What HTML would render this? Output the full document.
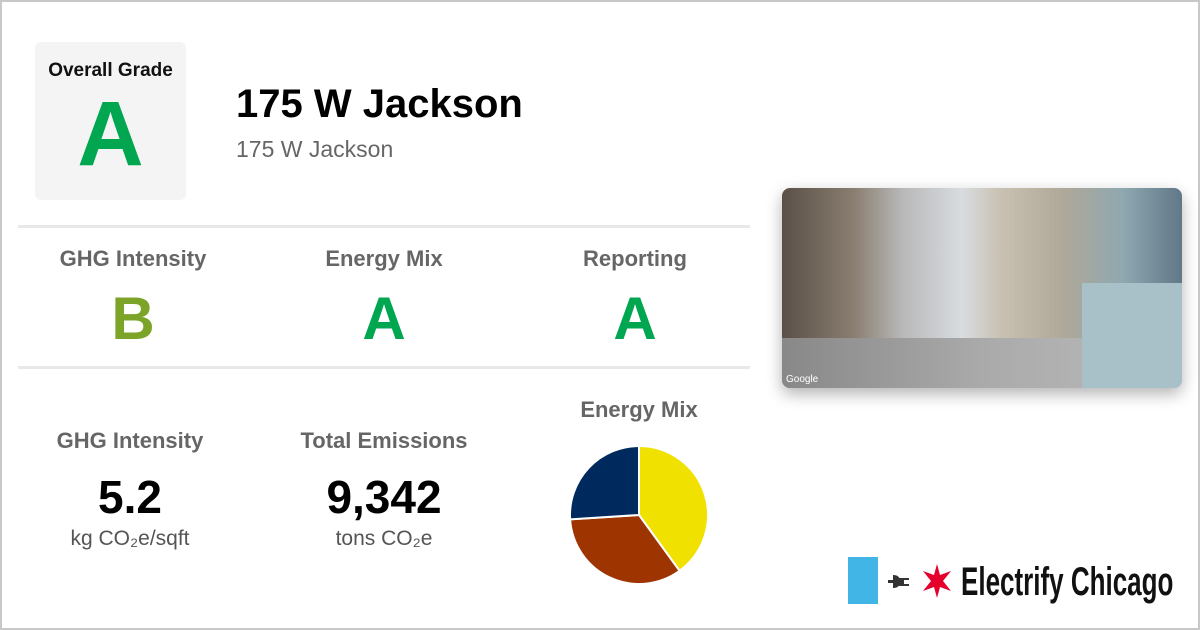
<!DOCTYPE html>
<html><head><meta charset="utf-8"><style>
*{margin:0;padding:0;box-sizing:border-box}
body{width:1200px;height:630px;overflow:hidden;background:#fff;font-family:"Liberation Sans",sans-serif;position:relative}
.frame{position:absolute;inset:0;border:2px solid #c8c8c8}
.a{position:absolute}
.gray{color:#666;font-weight:bold}
.c{text-align:center}
</style></head><body>
<div class="frame"></div>
<div class="a" style="left:35px;top:42px;width:151px;height:158px;background:#f4f4f4;border-radius:6px">
  <div class="a c" style="left:0;width:151px;top:18px;font-size:19px;font-weight:bold;color:#111">Overall Grade</div>
  <div class="a c" style="left:0;width:151px;top:42px;font-size:92px;font-weight:bold;color:#00a650;line-height:100px">A</div>
</div>
<div class="a" style="left:236px;top:82px;font-size:40px;font-weight:bold;color:#000">175 W Jackson</div>
<div class="a" style="left:236px;top:136px;font-size:23px;color:#666">175 W Jackson</div>
<div class="a" style="left:18px;top:225px;width:732px;height:3px;background:#e8e8e8"></div>
<div class="a" style="left:18px;top:366px;width:732px;height:3px;background:#e8e8e8"></div>
<div class="a gray c" style="left:33px;width:200px;top:246px;font-size:22px">GHG Intensity</div>
<div class="a c" style="left:33px;width:200px;top:284px;font-size:60px;font-weight:bold;color:#7ba428">B</div>
<div class="a gray c" style="left:284px;width:200px;top:246px;font-size:22px">Energy Mix</div>
<div class="a c" style="left:284px;width:200px;top:284px;font-size:60px;font-weight:bold;color:#00a650">A</div>
<div class="a gray c" style="left:535px;width:200px;top:246px;font-size:22px">Reporting</div>
<div class="a c" style="left:535px;width:200px;top:284px;font-size:60px;font-weight:bold;color:#00a650">A</div>
<div class="a gray c" style="left:30px;width:200px;top:428px;font-size:22px">GHG Intensity</div>
<div class="a c" style="left:30px;width:200px;top:470px;font-size:46px;font-weight:bold;color:#000">5.2</div>
<div class="a c" style="left:30px;width:200px;top:527px;font-size:21px;color:#555">kg CO₂e/sqft</div>
<div class="a gray c" style="left:284px;width:200px;top:428px;font-size:22px">Total Emissions</div>
<div class="a c" style="left:284px;width:200px;top:470px;font-size:46px;font-weight:bold;color:#000">9,342</div>
<div class="a c" style="left:284px;width:200px;top:527px;font-size:21px;color:#555">tons CO₂e</div>
<div class="a gray c" style="left:539px;width:200px;top:397px;font-size:22px">Energy Mix</div>
<svg class="a" id="pie" style="left:560px;top:436px" width="160" height="160"></svg>
<div class="a" style="left:782px;top:188px;width:400px;height:200px;border-radius:8px;overflow:hidden;box-shadow:0 6px 16px rgba(0,0,0,.3);background:linear-gradient(90deg,#5a5048 0%,#8a7e70 18%,#b8b8b8 30%,#d8dce0 45%,#c8c0b0 55%,#b0a898 70%,#90a8b0 85%,#607888 100%)">
  <div class="a" style="left:0;top:150px;width:400px;height:50px;background:linear-gradient(90deg,#888 0%,#aaa 50%,#bbb 100%)"></div>
  <div class="a" style="left:300px;top:95px;width:100px;height:105px;background:#a8c0c8"></div>
  <div class="a" style="left:4px;top:186px;font-size:10px;color:#fff">Google</div>
</div>
<div class="a" style="left:848px;top:557px;width:30px;height:47px;background:#41b6e6"></div>
<svg class="a" style="left:888px;top:572px" width="30" height="20">
  <rect x="0" y="8" width="6" height="3" fill="#333"/>
  <path d="M5 3 Q12 3 12 9.5 Q12 16 5 16 Z" fill="#333"/>
  <rect x="11" y="6" width="5" height="8" fill="#333"/>
  <rect x="16" y="6" width="5" height="2" fill="#333"/>
  <rect x="16" y="12" width="5" height="2" fill="#333"/>
</svg>
<svg class="a" style="left:920px;top:563px" width="34" height="36">
  <polygon fill="#e4002b" points="17,1 20,12 31,8 23,18 31,28 20,24 17,35 14,24 3,28 11,18 3,8 14,12"/>
</svg>
<div class="a" style="left:961px;top:560px;font-size:40px;color:#111;white-space:nowrap;transform:scaleX(.65);transform-origin:left;font-weight:bold;letter-spacing:0px">Electrify Chicago</div>
<script>
const categories=["Electricity","Natural Gas","Other"];
const values=[40,34,26];
const colors=["#f0e100","#9e3400","#002a5e"];
const svg=document.getElementById('pie');
const cx=79,cy=79,r=69;
const total=values.reduce((a,b)=>a+b,0);
let a0=0;
values.forEach((v,i)=>{
  const a1=a0+v/total*Math.PI*2;
  const x0=cx+r*Math.sin(a0),y0=cy-r*Math.cos(a0),x1=cx+r*Math.sin(a1),y1=cy-r*Math.cos(a1);
  const p=document.createElementNS('http://www.w3.org/2000/svg','path');
  p.setAttribute('d',`M${cx},${cy}L${x0},${y0}A${r},${r} 0 ${a1-a0>Math.PI?1:0} 1 ${x1},${y1}Z`);
  p.setAttribute('fill',colors[i]);p.setAttribute('stroke','#fff');p.setAttribute('stroke-width','2');
  
  
  svg.appendChild(p);a0=a1;
});
</script>
</body></html>
